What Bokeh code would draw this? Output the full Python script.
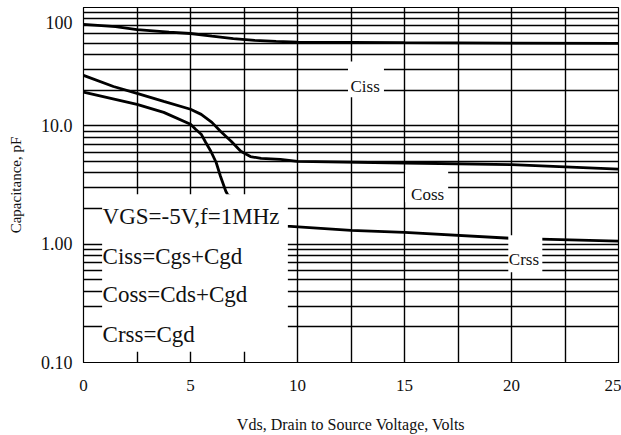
from bokeh.plotting import figure
from bokeh.models import Range1d, FixedTicker, BoxAnnotation, Label
from bokeh.embed import file_html
from bokeh.resources import INLINE

# ---- data ----
ciss_v = [0, 1.5, 2.5, 4, 5, 6, 7, 8, 9, 10, 15, 20, 25]
ciss_c = [72, 69, 65, 62, 60.3, 57.3, 54.6, 52.7, 51.8, 51, 50.4, 50, 49.7]

coss_v = [0, 1.4, 2.5, 3.75, 5, 5.5, 6, 6.4, 6.9, 7.35, 7.8, 8.3, 9.2, 10, 15, 20, 25]
coss_c = [26.7, 21.5, 18.8, 16.1, 13.8, 12.5, 10.7, 9.0, 7.4, 6.1, 5.5, 5.3, 5.2, 5.0, 4.85, 4.7, 4.3]

crss_v = [0, 2.5, 3.75, 5, 5.25, 5.5, 5.7, 5.95, 6.2, 6.4, 6.65, 6.75, 9.5, 12.5, 15, 20, 25]
crss_c = [19.3, 15.2, 13.0, 10.3, 9.3, 8.5, 7.3, 6.1, 4.9, 3.75, 2.8, 2.6, 1.42, 1.31, 1.26, 1.12, 1.06]

x_ticks = [0, 5, 10, 15, 20, 25]
x_minor = [2.5, 7.5, 12.5, 17.5, 22.5]
x_tick_labels = ["0", "5", "10", "15", "20", "25"]

y_ticks = [0.1, 1, 10, 100]
y_minor = [m * d for d in (0.1, 1, 10) for m in range(2, 10)]
y_tick_labels = ["0.10", "1.00", "10.0", "100"]

legend_lines = ["VGS=-5V,f=1MHz", "Ciss=Cgs+Cgd", "Coss=Cds+Cgd", "Crss=Cgd"]
curve_names = ["Ciss", "Coss", "Crss"]

SERIF = "Liberation Serif"

p = figure(width=621, height=435, output_backend="svg", toolbar_location=None,
           x_range=Range1d(0, 25), y_range=Range1d(0.1, 100), y_axis_type="log",
           min_border_left=83, min_border_right=3, min_border_top=7, min_border_bottom=72,
           background_fill_color="white", border_fill_color="white")

p.outline_line_color = "black"
p.outline_line_width = 1.2

p.xaxis.ticker = FixedTicker(ticks=x_ticks, minor_ticks=x_minor)
p.yaxis.ticker = FixedTicker(ticks=y_ticks, minor_ticks=y_minor)
p.xaxis.major_label_overrides = {t: l for t, l in zip(x_ticks, x_tick_labels)}
# the top label is printed a little below its grid line on the sheet
p.yaxis.major_label_overrides = {t: (l if t != 100 else "\n" + l) for t, l in zip(y_ticks, y_tick_labels)}

for ax in (p.xaxis, p.yaxis):
    ax.axis_line_color = "black"
    ax.major_tick_line_color = None
    ax.minor_tick_line_color = None
    ax.major_label_text_font = SERIF
    ax.major_label_text_color = "#111111"
    ax.axis_label_text_font = SERIF
    ax.axis_label_text_font_style = "normal"
    ax.axis_label_text_color = "#111111"

p.xaxis.major_label_text_font_size = "17px"
p.xaxis.major_label_standoff = 11
p.xaxis.axis_label = "Vds, Drain to Source Voltage, Volts"
p.xaxis.axis_label_text_font_size = "16px"
p.xaxis.axis_label_standoff = 22

p.yaxis.major_label_text_font_size = "18px"
p.yaxis.major_label_text_line_height = 0.6
p.yaxis.major_label_standoff = 5
p.yaxis.axis_label = "Capacitance, pF"
p.yaxis.axis_label_text_font_size = "15px"
p.yaxis.axis_label_standoff = 14

for g in (p.xgrid, p.ygrid):
    g.grid_line_color = "black"
    g.grid_line_width = 1.4
    g.minor_grid_line_color = "black"
    g.minor_grid_line_width = 1.4
    g.grid_line_alpha = 1.0
    g.minor_grid_line_alpha = 1.0

# curves
for xs, ys in ((ciss_v, ciss_c), (coss_v, coss_c), (crss_v, crss_c)):
    p.line(xs, ys, line_color="black", line_width=2.8)

# white areas behind texts (as in the scanned sheet)
boxes = [
    dict(left=0.87, right=9.55, bottom=0.123, top=2.64),   # condition text block
    dict(left=12.36, right=14.04, bottom=17.4, top=35),    # Ciss label
    dict(left=15.03, right=17.04, bottom=2.26, top=4.26),  # Coss label
    dict(left=19.85, right=21.44, bottom=0.58, top=1.19),  # Crss label
]
for b in boxes:
    p.add_layout(BoxAnnotation(fill_color="white", fill_alpha=1.0, line_color=None, **b))

legend_y = [1.72, 0.792, 0.379, 0.174]
for txt, yv in zip(legend_lines, legend_y):
    p.add_layout(Label(x=0.89, y=yv, text=txt, text_font=SERIF, text_font_size="23px",
                       text_baseline="middle", text_align="left", text_color="#111111"))

curve_label_pos = [(13.16, 21.5), (16.08, 2.64), (20.58, 0.747)]
for txt, (xv, yv) in zip(curve_names, curve_label_pos):
    p.add_layout(Label(x=xv, y=yv, text=txt, text_font=SERIF, text_font_size="17px",
                       text_baseline="middle", text_align="center", text_color="#111111"))

open("out.html", "w").write(file_html(p, INLINE))
